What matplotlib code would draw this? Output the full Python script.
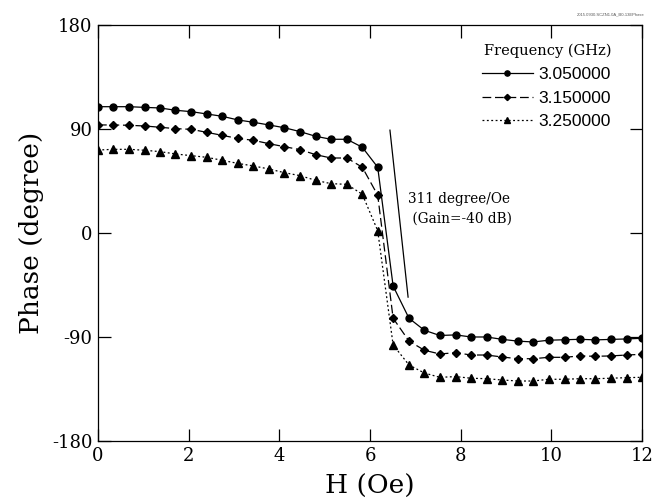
import matplotlib.pyplot as plt

# field sweep (Oe)
field = [0.00, 0.34, 0.69, 1.03, 1.37, 1.71, 2.06, 2.40, 2.74, 3.09,
         3.43, 3.77, 4.11, 4.46, 4.80, 5.14, 5.49, 5.83, 6.17, 6.51,
         6.86, 7.20, 7.54, 7.89, 8.23, 8.57, 8.91, 9.26, 9.60, 9.94,
         10.29, 10.63, 10.97, 11.31, 11.66, 12.00]

phase_3050 = [109.3, 109.3, 109.3, 108.7, 108.2, 106.2, 105.0, 103.0, 101.0, 97.8,
              95.8, 93.5, 91.1, 87.7, 83.7, 81.1, 81.1, 74.2, 56.9, -45.9,
              -73.8, -84.2, -88.7, -88.2, -90.0, -90.0, -92.0, -93.6, -94.3, -92.8,
              -92.4, -92.0, -92.5, -92.1, -91.7, -91.1]

phase_3150 = [93.5, 93.5, 93.2, 92.6, 91.5, 90.3, 89.7, 87.1, 84.5, 81.8,
              80.2, 77.3, 74.7, 72.1, 67.8, 64.9, 64.9, 56.9, 32.7, -73.8,
              -93.5, -101.5, -104.7, -103.6, -105.6, -105.6, -107.3, -108.8, -108.8, -107.6,
              -107.6, -106.4, -106.7, -106.4, -105.6, -105.0]

phase_3250 = [71.8, 72.4, 72.4, 71.6, 70.4, 68.4, 66.9, 65.5, 62.9, 60.2,
              58.0, 55.4, 52.2, 49.6, 45.6, 42.7, 42.1, 33.5, 2.0, -96.9,
              -114.2, -121.2, -124.9, -124.3, -125.7, -126.1, -127.2, -128.1, -128.1, -126.6,
              -126.6, -126.1, -126.1, -125.7, -125.2, -124.9]

freq_labels = ["3.050000", "3.150000", "3.250000"]

# guide line for the slope annotation
slope_x = [6.44, 6.84]
slope_y = [89.0, -55.5]

serif = "DejaVu Serif"
sans = "Liberation Sans"
plt.rcParams["axes.unicode_minus"] = False

fig = plt.figure(figsize=(6.54, 5.01), dpi=100)
ax = fig.add_axes([0.1498, 0.1198, 0.8319, 0.8303])

lw = 0.9
ax.plot(field, phase_3050, color="black", lw=lw, ls="-",
        marker="o", ms=5, label=freq_labels[0])
ax.plot(field, phase_3150, color="black", lw=lw, ls=(0, (7, 3)),
        marker="D", ms=4.2, label=freq_labels[1])
ax.plot(field, phase_3250, color="black", lw=lw, ls=(0, (1.5, 2)),
        marker="^", ms=5.5, label=freq_labels[2])

ax.plot(slope_x, slope_y, color="black", lw=0.9)
ax.text(6.84, 21, "311 degree/Oe\n (Gain=-40 dB)", fontsize=9.8,
        family=serif, va="center", ha="left", linespacing=1.45)

ax.set_xlim(0, 12)
ax.set_ylim(-180, 180)
ax.set_xticks([0, 2, 4, 6, 8, 10, 12])
ax.set_yticks([-180, -90, 0, 90, 180])
ax.tick_params(direction="in", length=9, width=0.9, top=True, right=True,
               labelsize=13, pad=4)
for lab in ax.get_xticklabels() + ax.get_yticklabels():
    lab.set_family(serif)
for sp in ax.spines.values():
    sp.set_linewidth(0.9)

ax.set_xlabel("H (Oe)", fontsize=19, family=serif, labelpad=7)
ax.set_ylabel("Phase (degree)", fontsize=19, family=serif, labelpad=6)

leg = ax.legend(loc="upper right", bbox_to_anchor=(0.972, 0.993), frameon=False,
                numpoints=1, markerscale=0.75, handlelength=2.9, handletextpad=0.35,
                labelspacing=0.5, prop={"family": sans, "size": 12.5},
                title="Frequency (GHz)",
                title_fontproperties={"family": serif, "size": 10.5})
leg._legend_box.align = "right"

fig.text(0.985, 0.972, "2015.0930.SCZN1.0A_B0-13EPhase", fontsize=3,
         ha="right", va="center", color="#555555", family=sans)

fig.savefig("out.png", dpi=100)
